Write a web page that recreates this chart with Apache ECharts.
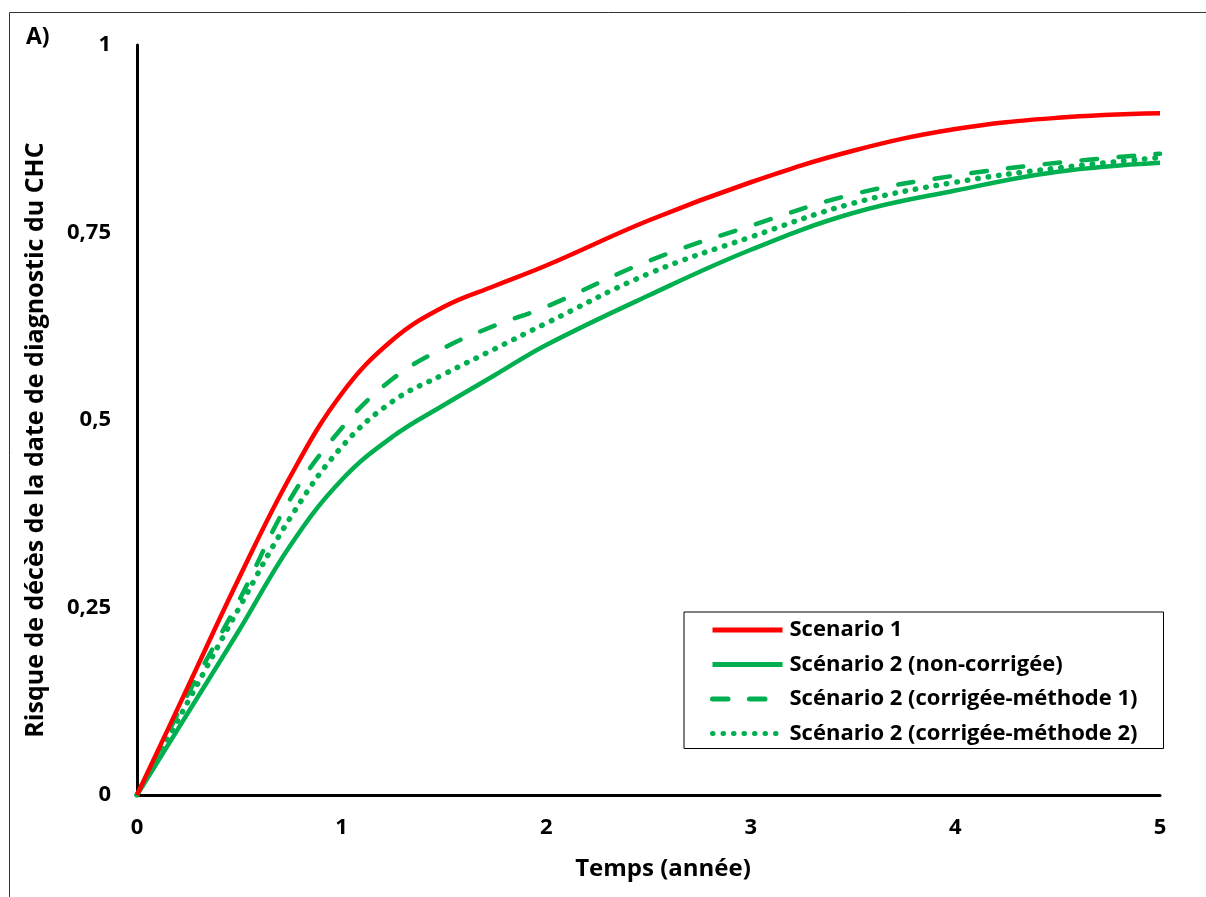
<!DOCTYPE html>
<html>
<head>
<meta charset="utf-8">
<script src="https://cdn.jsdelivr.net/npm/echarts@6/dist/echarts.min.js"></script>
<style>html,body{margin:0;padding:0;background:#fff;}#chart{width:1206px;height:897px;}</style>
</head>
<body>
<div id="chart"></div>
<script>
const years = [0, 0.25, 0.5, 0.75, 1, 1.25, 1.5, 1.75, 2, 2.5, 3, 3.5, 4, 4.5, 5];
const scenario1 = [0, 0.145, 0.29, 0.425, 0.535, 0.607, 0.651, 0.679, 0.706, 0.766, 0.817, 0.859, 0.888, 0.903, 0.909];
const scenario2NonCorr = [0, 0.11, 0.22, 0.333, 0.42, 0.478, 0.52, 0.56, 0.6, 0.666, 0.727, 0.776, 0.806, 0.831, 0.843];
const scenario2Meth1 = [0, 0.135, 0.26, 0.395, 0.489, 0.555, 0.596, 0.626, 0.651, 0.712, 0.759, 0.801, 0.826, 0.843, 0.855];
const scenario2Meth2 = [0, 0.125, 0.25, 0.37, 0.464, 0.525, 0.561, 0.595, 0.629, 0.695, 0.744, 0.789, 0.817, 0.836, 0.85];
const seriesNames = ['Scenario 1', 'Scénario 2 (non-corrigée)', 'Scénario 2 (corrigée-méthode 1)', 'Scénario 2 (corrigée-méthode 2)'];
const yTickLabels = {0: '0', 0.25: '0,25', 0.5: '0,5', 0.75: '0,75', 1: '1'};
const xTickLabels = {0: '0', 1: '1', 2: '2', 3: '3', 4: '4', 5: '5'};
const xTitle = 'Temps (année)';
const yTitle = 'Risque de décès de la date de diagnostic du CHC';
const panelLabel = 'A)';

const FONT = '"Open Sans", "Noto Sans", sans-serif';
const RED = '#FF0000', GREEN = '#00B050';

function pairs(ys) { return years.map((x, i) => [x, ys[i]]); }

const chart = echarts.init(document.getElementById('chart'), null, {renderer: 'canvas'});
chart.setOption({
  backgroundColor: '#fff',
  animation: false,
  grid: {left: 137, right: 46, top: 45, bottom: 102, containLabel: false},
  xAxis: {
    type: 'value', min: 0, max: 5, interval: 1,
    axisLine: {show: true, onZero: false, lineStyle: {color: '#000', width: 3}},
    axisTick: {show: false},
    splitLine: {show: false},
    axisLabel: {margin: 22, color: '#000', fontFamily: FONT, fontWeight: 'bold', fontSize: 22,
      formatter: v => xTickLabels[v] !== undefined ? xTickLabels[v] : ''},
    name: xTitle, nameLocation: 'middle', nameGap: 62,
    nameTextStyle: {color: '#000', fontFamily: FONT, fontWeight: 'bold', fontSize: 24, padding: [0, 0, 0, 29]}
  },
  yAxis: {
    type: 'value', min: 0, max: 1, interval: 0.25,
    axisLine: {show: true, onZero: false, lineStyle: {color: '#000', width: 3}},
    axisTick: {show: false},
    splitLine: {show: false},
    axisLabel: {margin: 26, color: '#000', fontFamily: FONT, fontWeight: 'bold', fontSize: 22,
      formatter: v => yTickLabels[v] !== undefined ? yTickLabels[v] : ''},
    name: yTitle, nameLocation: 'middle', nameGap: 89, nameRotate: 90,
    nameTextStyle: {color: '#000', fontFamily: FONT, fontWeight: 'bold', fontSize: 25, padding: [0, 40, 0, 0]}
  },
  legend: {
    orient: 'vertical', left: 684, top: 612,
    backgroundColor: '#fff', borderColor: '#000', borderWidth: 1,
    padding: [7, 26, 4, 26],
    itemWidth: 70, itemHeight: 22, itemGap: 12.5,
    itemStyle: {opacity: 0},
    lineStyle: {width: 5},
    textStyle: {color: '#000', fontFamily: FONT, fontWeight: 'bold', fontSize: 22, lineHeight: 22, padding: [0, 0, 0, 2]},
    data: seriesNames
  },
  graphic: [
    {type: 'rect', shape: {x: 9.5, y: 12.5, width: 1300, height: 1000}, style: {fill: 'none', stroke: '#333', lineWidth: 1}, silent: true},
    {type: 'text', left: 26, top: 26, style: {text: panelLabel, fill: '#000', font: 'bold 23px ' + FONT}}
  ],
  series: [
    {name: seriesNames[0], type: 'line', data: pairs(scenario1), smooth: 0.4, symbol: 'none', z: 5,
      lineStyle: {color: RED, width: 4.5}, itemStyle: {color: RED}},
    {name: seriesNames[1], type: 'line', data: pairs(scenario2NonCorr), smooth: 0.4, symbol: 'none', z: 4,
      lineStyle: {color: GREEN, width: 4.5}, itemStyle: {color: GREEN}},
    {name: seriesNames[2], type: 'line', data: pairs(scenario2Meth1), smooth: 0.4, symbol: 'none', z: 3,
      lineStyle: {color: GREEN, width: 4.5, type: [15.5, 21.5], cap: 'round'}, itemStyle: {color: GREEN}},
    {name: seriesNames[3], type: 'line', data: pairs(scenario2Meth2), smooth: 0.4, symbol: 'none', z: 3,
      lineStyle: {color: GREEN, width: 5.5, type: [0.5, 10], cap: 'round'}, itemStyle: {color: GREEN}}
  ]
});
</script>
</body>
</html>
